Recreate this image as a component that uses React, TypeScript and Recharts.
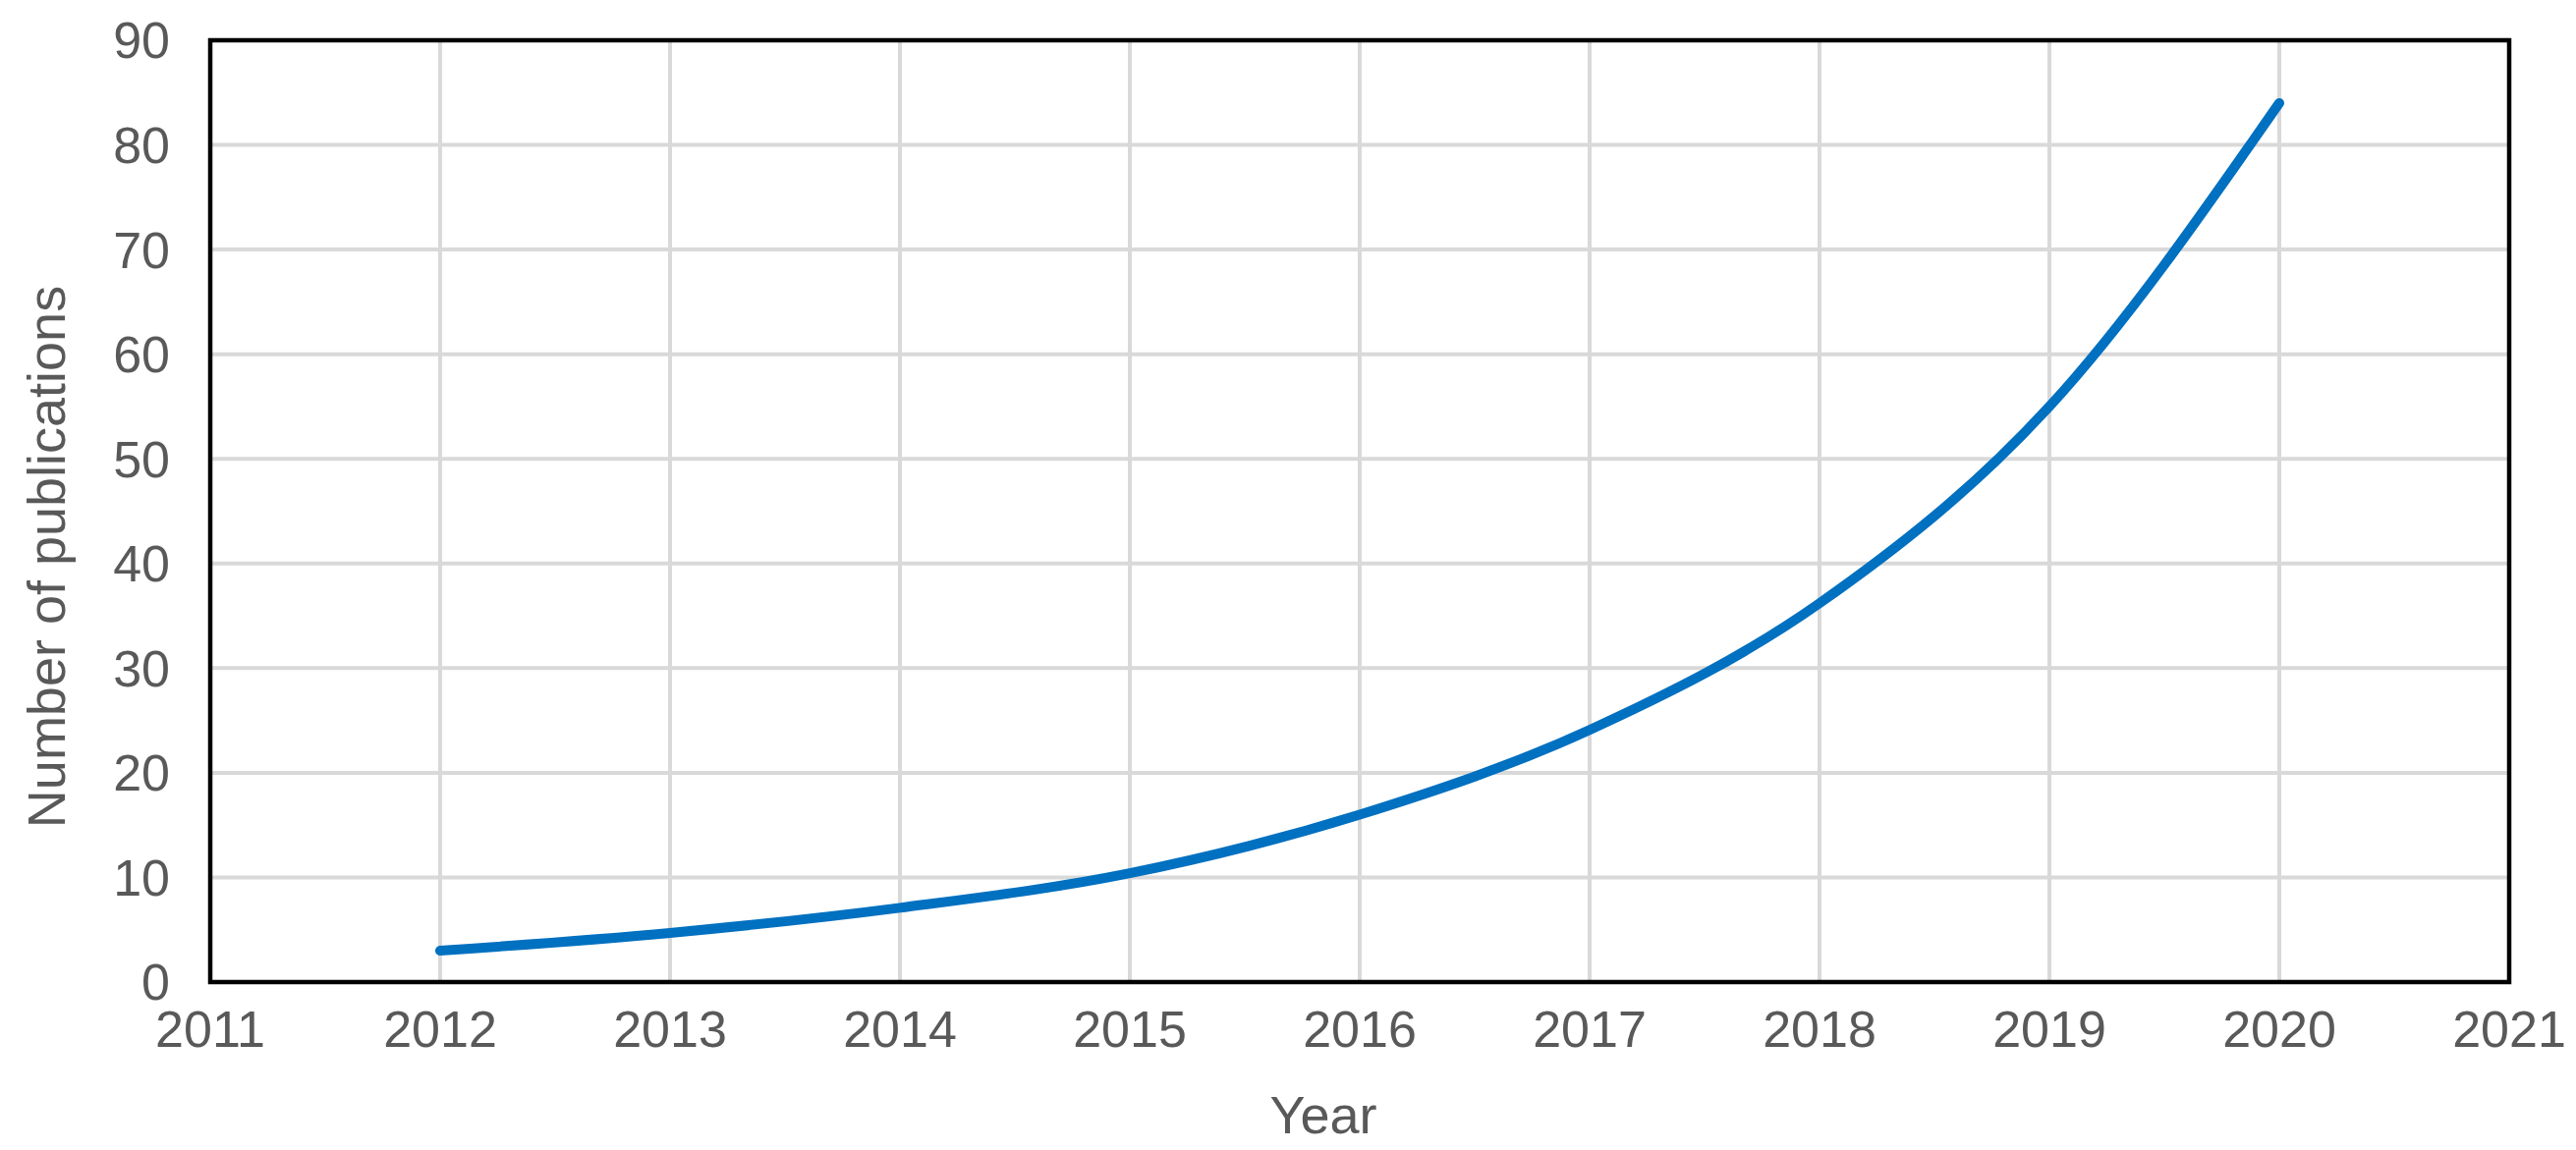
import { LineChart, Line, XAxis, YAxis, CartesianGrid, ReferenceArea } from "recharts";

const years = [2012, 2013, 2014, 2015, 2016, 2017, 2018, 2019, 2020];
const publications = [3, 4.7, 7.1, 10.4, 16, 24.1, 36.2, 55, 84];
const xTicks = [2011, 2012, 2013, 2014, 2015, 2016, 2017, 2018, 2019, 2020, 2021];
const yTicks = [0, 10, 20, 30, 40, 50, 60, 70, 80, 90];

const FONT = "'Liberation Sans', Arial, sans-serif";
const GREY = "#595959";

const data = years.map((year, i) => ({ year, value: publications[i] }));

// axis titles placed like the excel chart (centred on chart area, not plot)
function YearTitle(props: any) {
  const vb = props.viewBox;
  return (
    <text x={vb.x + vb.width / 2 - 37} y={1154} textAnchor="middle" fill={GREY} fontSize={54} fontFamily={FONT}>
      Year
    </text>
  );
}

function CountTitle() {
  return (
    <text x={66} y={567} transform="rotate(-90, 66, 567)" textAnchor="middle" fill={GREY} fontSize={54} fontFamily={FONT}>
      Number of publications
    </text>
  );
}

export default function App() {
  const tickStyle = { fill: GREY, fontSize: 52, fontFamily: FONT };
  return (
    <div style={{ position: "absolute", left: 0, top: 0, background: "#fff" }}>
      <LineChart width={2622} height={1171} data={data} margin={{ top: 41, right: 68, bottom: 0, left: 0 }}>
        <CartesianGrid stroke="#d9d9d9" strokeWidth={4} />
        <XAxis
          dataKey="year"
          type="number"
          domain={[2011, 2021]}
          ticks={xTicks}
          height={171}
          axisLine={false}
          tickLine={false}
          tickSize={0}
          tickMargin={29}
          tick={tickStyle}
          label={<YearTitle />}
        />
        <YAxis
          type="number"
          domain={[0, 90]}
          ticks={yTicks}
          width={214}
          axisLine={false}
          tickLine={false}
          tickSize={0}
          tickMargin={41}
          tick={tickStyle}
          label={<CountTitle />}
        />
        <ReferenceArea x1={2011} x2={2021} y1={0} y2={90} fill="none" stroke="#000" strokeWidth={4.5} ifOverflow="visible" />
        <Line
          type="monotone"
          dataKey="value"
          stroke="#0070c0"
          strokeWidth={10}
          strokeLinecap="round"
          dot={false}
          activeDot={false}
          isAnimationActive={false}
        />
      </LineChart>
    </div>
  );
}
